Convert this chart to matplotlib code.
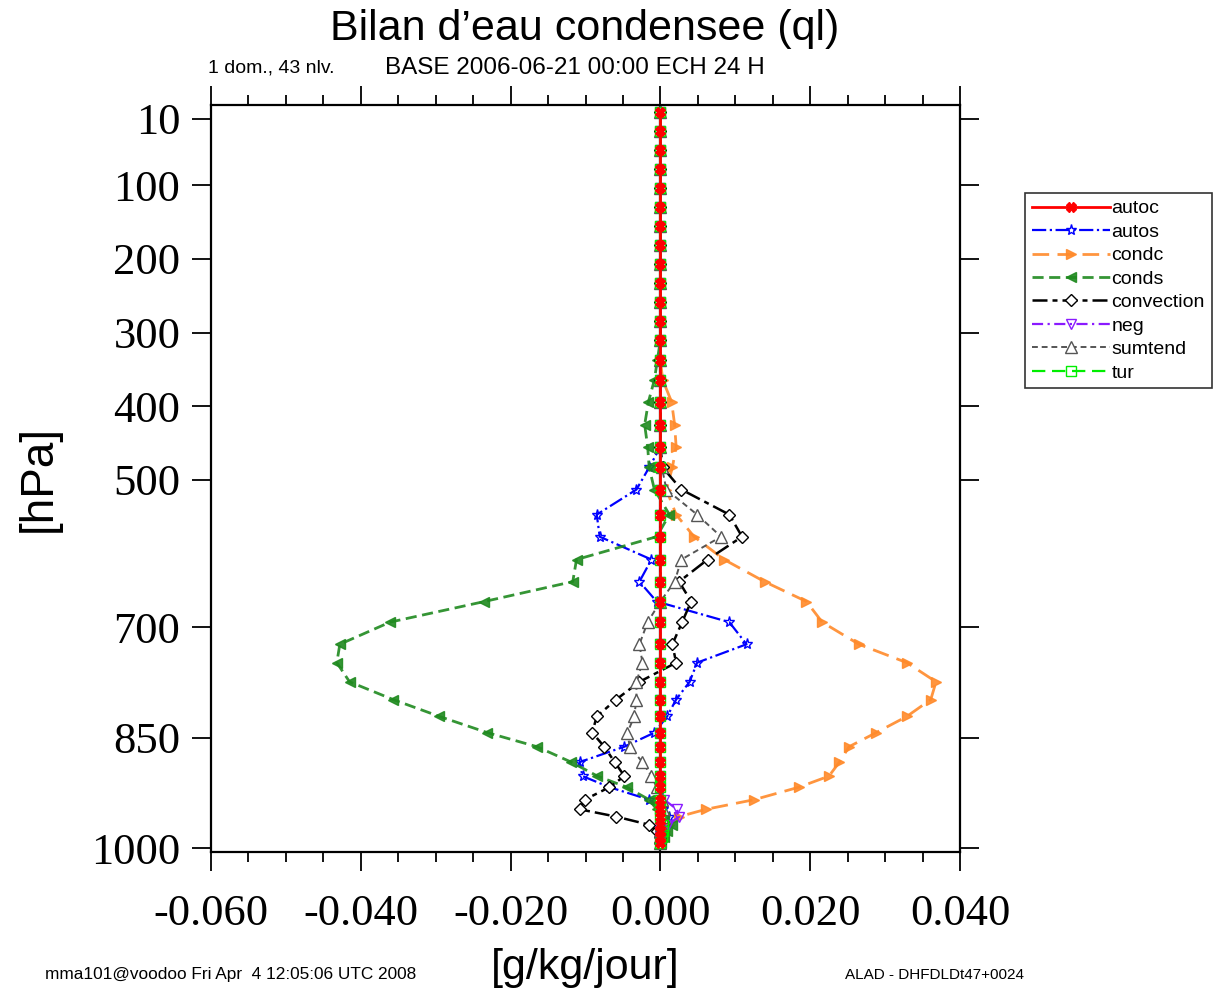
import matplotlib
matplotlib.use("Agg")
import matplotlib.pyplot as plt
from matplotlib.ticker import MultipleLocator, FormatStrFormatter

# pressure levels (hPa), 43 model levels
plev = [1, 26, 52, 78, 104, 129, 155, 181, 207, 232, 258, 284, 310, 337, 364,
        394, 425, 455, 483, 513, 547, 577, 608, 638, 665, 693, 723, 748, 774,
        798, 821, 843, 862, 883, 902, 917, 934, 947, 957, 968, 977, 985, 993]

autoc = [0.0] * 43
autos = [0.0] * 18 + [-0.0015, -0.0032, -0.0085, -0.0081, -0.0012, -0.0028, -0.0005,
                      0.0092, 0.0115, 0.0049, 0.0039, 0.0021, 0.0009, -0.0008, -0.0048,
                      -0.0108, -0.0104, -0.0068, -0.0015, 0.0003, 0.0012, 0.0005, 0.0002,
                      0.0, 0.0]
condc = [0.0] * 14 + [0.0003, 0.0015, 0.0019, 0.0021, 0.0016, 0.0008, 0.0021, 0.0045,
                      0.0085, 0.0139, 0.0195, 0.0216, 0.0265, 0.0329, 0.0368, 0.0361,
                      0.0329, 0.0288, 0.0252, 0.0239, 0.0225, 0.0185, 0.0125, 0.0061,
                      0.0025, 0.0012, 0.0006, 0.0003, 0.0001]
conds = [0.0] * 13 + [-0.0004, -0.0008, -0.0016, -0.0021, -0.0017, -0.0015, -0.0008,
                      0.0012, -0.0005, -0.0112, -0.0117, -0.0235, -0.0361, -0.0428,
                      -0.0432, -0.0415, -0.0357, -0.0295, -0.0231, -0.0165, -0.0119,
                      -0.0084, -0.0045, -0.0015, -0.0005, 0.0005, 0.0015, 0.0009,
                      0.0005, 0.0001]
convection = [0.0] * 18 + [0.0003, 0.0028, 0.0092, 0.0109, 0.0063, 0.0025, 0.0041,
                           0.0029, 0.0016, 0.0021, -0.0028, -0.0059, -0.0085, -0.0091,
                           -0.0075, -0.0061, -0.0048, -0.0068, -0.0101, -0.0108,
                           -0.0059, -0.0015, -0.0005, -0.0001, 0.0]
neg = [0.0] * 36 + [0.0005, 0.0022, 0.0025, 0.0010, 0.0, 0.0, 0.0]
sumtend = [0.0] * 18 + [0.0002, 0.0008, 0.0049, 0.0081, 0.0028, 0.0019, 0.0,
                        -0.0017, -0.0028, -0.0024, -0.0032, -0.0032, -0.0035, -0.0044,
                        -0.0041, -0.0024, -0.0012, -0.0005, 0.0002, 0.0003, 0.0002,
                        0.0001, 0.0, 0.0, 0.0]
tur = [0.0] * 39 + [0.0003, 0.0004, 0.0002, 0.0]

sans = "Liberation Sans"
serif = "Liberation Serif"

fig = plt.figure(figsize=(12.15, 9.89), dpi=100)
ax = fig.add_axes([211 / 1215, 1 - 852 / 989, 749 / 1215, 747 / 989])

ax.axvline(0, color="black", lw=1.6, zorder=1)

ms = 7
ax.plot(autos, plev, color="blue", ls="-.", lw=1.6, marker="*", ms=ms + 1,
        mfc="none", label="autos", zorder=3)
ax.plot(condc, plev, color="#ff8a2a", ls=(0, (6, 3)), lw=2, marker=">", ms=ms,
        alpha=0.9, label="condc", zorder=3)
ax.plot(conds, plev, color="#1f8a1f", ls=(0, (4, 2)), lw=2, marker="<", ms=ms,
        alpha=0.9, label="conds", zorder=3)
ax.plot(convection, plev, color="black", ls=(0, (6, 2, 2, 2)), lw=1.8, marker="D",
        ms=ms - 1, mfc="white", label="convection", zorder=3)
ax.plot(neg, plev, color="#8a1aff", ls=(0, (5, 2, 1, 2)), lw=1.6, marker="v", ms=ms,
        mfc="none", label="neg", zorder=3)
ax.plot(sumtend, plev, color="#555555", ls=(0, (3, 2)), lw=1.4, marker="^", ms=ms + 1,
        mfc="white", label="sumtend", zorder=3)
ax.plot(tur, plev, color="#00ee00", ls=(0, (6, 3)), lw=1.6, marker="s", ms=ms,
        mfc="none", label="tur", zorder=3)
ax.plot(autoc, plev, color="red", ls="-", lw=2, marker="X", ms=ms,
        label="autoc", zorder=4)

ax.set_xlim(-0.06, 0.04)
ax.set_ylim(1005, -9)

ax.xaxis.set_major_locator(MultipleLocator(0.02))
ax.xaxis.set_minor_locator(MultipleLocator(0.005))
ax.xaxis.set_major_formatter(FormatStrFormatter("%.3f"))
ax.set_yticks([10, 100, 200, 300, 400, 500, 700, 850, 1000])
ax.tick_params(axis="x", which="major", direction="out", length=14, width=1.3,
               top=True, bottom=True, labelsize=32, pad=16)
ax.tick_params(axis="x", which="minor", direction="out", length=7, width=1.3,
               top=True, bottom=True)
ax.tick_params(axis="y", which="major", direction="out", length=14, width=1.3,
               left=True, right=True, labelsize=32, pad=8)
for lab in ax.get_xticklabels() + ax.get_yticklabels():
    lab.set_fontfamily(serif)
for sp in ax.spines.values():
    sp.set_linewidth(1.6)

ax.set_xlabel("[g/kg/jour]", fontsize=31, fontfamily=sans, labelpad=10)
ax.set_ylabel("[hPa]", fontsize=33, fontfamily=sans, labelpad=22)

fig.text(585 / 1215, 1 - 29 / 989, "Bilan d\u2019eau condensee (ql)", ha="center",
         va="center", fontsize=31, fontfamily=sans)
fig.text(208 / 1215, 1 - 68 / 989, "1 dom., 43 nlv.", ha="left", va="center",
         fontsize=14, fontfamily=sans)
fig.text(385 / 1215, 1 - 68 / 989, "BASE 2006-06-21 00:00 ECH 24 H", ha="left",
         va="center", fontsize=17.5, fontfamily=sans)
fig.text(45 / 1215, 1 - 975 / 989, "mma101@voodoo Fri Apr  4 12:05:06 UTC 2008",
         ha="left", va="center", fontsize=12.4, fontfamily=sans)
fig.text(845 / 1215, 1 - 975 / 989, "ALAD - DHFDLDt47+0024", ha="left",
         va="center", fontsize=11, fontfamily=sans)

order = ["autoc", "autos", "condc", "conds", "convection", "neg", "sumtend", "tur"]
hd = {l.get_label(): l for l in ax.get_lines() if not l.get_label().startswith("_")}
leg = fig.legend([hd[k] for k in order], order, loc="upper left",
                 bbox_to_anchor=(1025 / 1215, 1 - 193 / 989), borderaxespad=0,
                 prop={"family": sans, "size": 14}, frameon=True, fancybox=False,
                 edgecolor="black", handlelength=4.0, handletextpad=0.1,
                 labelspacing=0.3, borderpad=0.35)
leg.get_frame().set_linewidth(1.2)

fig.savefig("out.png", dpi=100)
